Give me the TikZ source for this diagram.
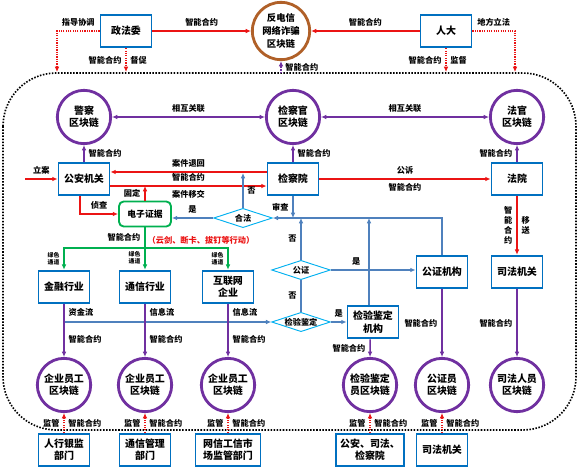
\documentclass[tikz,border=0pt]{standalone}
\usepackage{fontspec}
\setmainfont{Noto Sans CJK SC}
\usetikzlibrary{shapes.geometric,arrows.meta}
\definecolor{boxblue}{RGB}{0,112,192}
\definecolor{chainpurple}{RGB}{112,48,160}
\definecolor{fraudbrown}{RGB}{176,96,40}
\definecolor{evred}{RGB}{235,20,20}
\definecolor{evgreen}{RGB}{0,176,80}
\definecolor{flowblue}{RGB}{79,129,189}
\definecolor{diacyan}{RGB}{0,176,240}

\begin{document}
\begin{tikzpicture}[x=0.03cm, y=-0.03cm, font=\fontsize{7}{8.5}\selectfont\bfseries,
    box/.style = {draw=boxblue, line width=1.6pt, fill=white, minimum width=1.53cm, minimum height=0.98cm, inner sep=1pt, align=center, font=\fontsize{8.5}{10.5}\selectfont\bfseries},
    chain/.style = {draw=chainpurple, circle, line width=2.4pt, fill=white, minimum size=1.6cm, inner sep=0pt, align=center, font=\fontsize{8.5}{10.5}\selectfont\bfseries},
    evbox/.style = {draw=evgreen, line width=1.6pt, rounded corners=4pt, fill=white, minimum width=1.56cm, minimum height=0.75cm, font=\fontsize{7.5}{9}\selectfont\bfseries},
    check/.style = {draw=diacyan, diamond, aspect=3, line width=0.8pt, fill=white, inner sep=0pt, minimum width=1.76cm, minimum height=0.58cm},
    redarr/.style = {draw=evred, line width=1.2pt, -{Latex[length=4.5pt,width=4pt]}},
    reddot/.style = {draw=evred, line width=1pt, densely dotted, -{Latex[length=4.5pt,width=4pt]}},
    purplearr/.style = {draw=chainpurple, line width=1.3pt, -{Latex[length=4.5pt,width=4pt]}},
    purpledot/.style = {draw=chainpurple, line width=1pt, densely dotted, -{Latex[length=4.5pt,width=4pt]}},
    bluearr/.style = {draw=flowblue, line width=1pt, -{Latex[length=4.5pt,width=4pt]}},
    blueline/.style = {draw=flowblue, line width=1pt},
    greenarr/.style = {draw=evgreen, line width=1.2pt, -{Latex[length=4.5pt,width=4pt]}},
    tiny/.style = {font=\fontsize{5}{6}\selectfont\bfseries, align=center}]
        \useasboundingbox (0,0) rectangle (586,473);

        \draw[line width=1.4pt, dash pattern=on 1.3pt off 1.3pt, rounded corners=1.6cm] (3,73) rectangle (576,430);

        \node[box] (zfw) at (126,31) {政法委};
        \node[circle, draw=fraudbrown, line width=2.4pt, fill=white, minimum size=1.72cm, inner sep=0pt, align=center, font=\fontsize{8}{11}\selectfont\bfseries] (fraud) at (281,31) {反电信\\网络诈骗\\区块链};
        \node[box] (rd) at (446,31) {人大};

        \coordinate (guide) at (57,72);
        \coordinate (law) at (515,72);
        \coordinate (topmid) at (281,73);

        \draw[redarr] (zfw) -- (fraud) node [midway,above] {智能合约};
        \draw[redarr] (rd) -- (fraud) node [midway,above] {智能合约};
        \draw[reddot] (zfw.west) -| (guide) node [pos=0.25,above] {指导协调};
        \draw[reddot] (zfw.south) -- (zfw.south |- guide) node [midway,left] {智能合约} node [midway,right] {督促};
        \draw[reddot] (rd.south) -- (rd.south |- guide) node [midway,left] {智能合约} node [midway,right] {监督};
        \draw[reddot] (rd.east) -| (law) node [pos=0.25,above] {地方立法};
        \draw[purpledot] (topmid) -- (fraud) node [midway,right] {智能合约};

        \node[chain] (police) at (84,117) {警察\\区块链};
        \node[chain] (procu) at (293,117) {检察官\\区块链};
        \node[chain] (judge) at (517,117) {法官\\区块链};

        \draw[purplearr, {Latex[length=4.5pt,width=4pt]}-{Latex[length=4.5pt,width=4pt]}] (police) -- (procu) node [midway,above] {相互关联};
        \draw[purplearr, {Latex[length=4.5pt,width=4pt]}-{Latex[length=4.5pt,width=4pt]}] (procu) -- (judge) node [midway,above] {相互关联};

        \node[box] (psb) at (84,179) {公安机关};
        \node[box] (jcy) at (293,179) {检察院};
        \node[box] (fy) at (517,179) {法院};
        \node[box] (sfjg) at (517,272) {司法机关};

        \draw[purplearr] (psb) -- (police) node [midway,right] {智能合约};
        \draw[purplearr] (jcy) -- (procu) node [midway,right] {智能合约};
        \draw[purplearr] (fy) -- (judge) node [midway,left] {智能合约};

        \coordinate (lian) at (25,179);
        \draw[redarr] (lian) -- (psb) node [midway,above] {立案};
        \draw[redarr] ([yshift=6pt]jcy.west) -- ([yshift=6pt]psb.east) node [midway,above] {案件退回};
        \draw[redarr] ([yshift=-6pt]psb.east) -- ([yshift=-6pt]jcy.west) node [midway,above] {智能合约} node [midway,below] {案件移交};
        \draw[redarr] (jcy) -- (fy) node [midway,above] {公诉} node [midway,below] {智能合约};
        \draw[redarr] (fy) -- (sfjg) node [midway,left,align=center] {智\\能\\合\\约} node [midway,right,align=center] {移\\送};

        \node[evbox] (ev) at (145,214) {电子证据};
        \coordinate (fix) at (145,186);
        \draw[redarr] ([xshift=-3.4pt]psb.south) |- (ev.west) node [pos=0.75,above] {侦查};
        \draw[redarr] (ev) -- (fix) node [midway,left] {固定};

        \node[check] (legal) at (243,218) {合法};
        \node[check] (notar) at (301,270) {公证};
        \node[check] (insp) at (301,322) {检验鉴定};
        \node[box] (notary) at (442,272) {公证机构};
        \node[box] (inspinst) at (373,322) {检验鉴定\\机构};
        \coordinate (rej) at (243,173);

        \draw[bluearr] (legal.west) -- (legal.west -| ev.east) node [midway,above] {是};
        \draw[bluearr] (legal.north) -- (rej) node [midway,right] {否};
        \draw[bluearr] (jcy.south) -- (jcy.south |- legal) node [midway,left] {审查};
        \draw[bluearr] (notary.north) |- (legal.east);
        \draw[bluearr] (notar.north) -- (notar.north |- legal) node [midway,left] {否};
        \draw[bluearr] (notar.east) -- (notar.east -| notary.west) node [pos=0.3,above] {是};
        \draw[blueline] (insp.north) -- (notar.south) node [midway,left] {否};
        \draw[bluearr] (insp) -- (inspinst) node [midway,above] {是};
        \draw[bluearr] ([xshift=-3.4pt]inspinst.north) -- ([xshift=-3.4pt]inspinst.north |- legal);

        \node[box] (fin) at (64,287) {金融行业};
        \node[box] (tel) at (145,287) {通信行业};
        \node[box] (net) at (228,287) {互联网\\企业};
        \node[text=evred, font=\fontsize{7}{8}\selectfont\bfseries] (action) at (201,240) {（云剑、断卡、拔钉等行动）};

        \coordinate (gbar) at (145,248);
        \draw[greenarr] (ev) -- (tel) node [pos=0.23,left] {智能合约} node [pos=0.72,left,tiny] {绿色\\通道};
        \draw[greenarr] (gbar) -| (fin.north) node [pos=0.75,left,tiny] {绿色\\通道};
        \draw[greenarr] (gbar) -| (net.north) node [pos=0.75,left,tiny] {绿色\\通道};

        \coordinate (flow) at (64,322);
        \draw[bluearr] (flow) -- (insp.west);

        \node[chain] (emp1) at (64,385) {企业员工\\区块链};
        \node[chain] (emp2) at (145,385) {企业员工\\区块链};
        \node[chain] (emp3) at (228,385) {企业员工\\区块链};
        \node[chain] (inspchain) at (370,385) {检验鉴定\\员区块链};
        \node[chain] (notarchain) at (442,385) {公证员\\区块链};
        \node[chain] (judchain) at (517,385) {司法人员\\区块链};

        \draw[purplearr] (fin) -- (emp1) node [pos=0.16,right] {资金流} node [pos=0.67,right] {智能合约};
        \draw[purplearr] (tel) -- (emp2) node [pos=0.16,right] {信息流} node [pos=0.67,right] {智能合约};
        \draw[purplearr] (net) -- (emp3) node [pos=0.16,right] {信息流} node [pos=0.67,right] {智能合约};
        \draw[purplearr] ([xshift=-2.5pt]inspinst.south) -- (inspchain) node [midway,left] {智能合约};
        \draw[purplearr] (notary) -- (notarchain) node [midway,left] {智能合约};
        \draw[purplearr] (sfjg) -- (judchain) node [midway,left] {智能合约};

        \node[box] (pboc) at (64,450) {人行银监\\部门};
        \node[box] (miit) at (145,450) {通信管理\\部门};
        \node[box, minimum width=1.95cm] (cac) at (228,450) {网信工信市\\场监管部门};
        \node[box, minimum width=2.04cm] (pjc) at (370,450) {公安、司法、\\检察院};
        \node[box] (judorg) at (442,450) {司法机关};

        \draw[reddot] (pboc) -- (emp1) node [midway,left] {监管} node [midway,right] {智能合约};
        \draw[reddot] (miit) -- (emp2) node [midway,left] {监管} node [midway,right] {智能合约};
        \draw[reddot] (cac) -- (emp3) node [midway,left] {监管} node [midway,right] {智能合约};
        \draw[reddot] (pjc) -- (inspchain) node [midway,left] {监管} node [midway,right] {智能合约};
        \draw[reddot] (judorg) -- (notarchain) node [midway,left] {监管} node [midway,right] {智能合约};
    \end{tikzpicture}
\end{document}
